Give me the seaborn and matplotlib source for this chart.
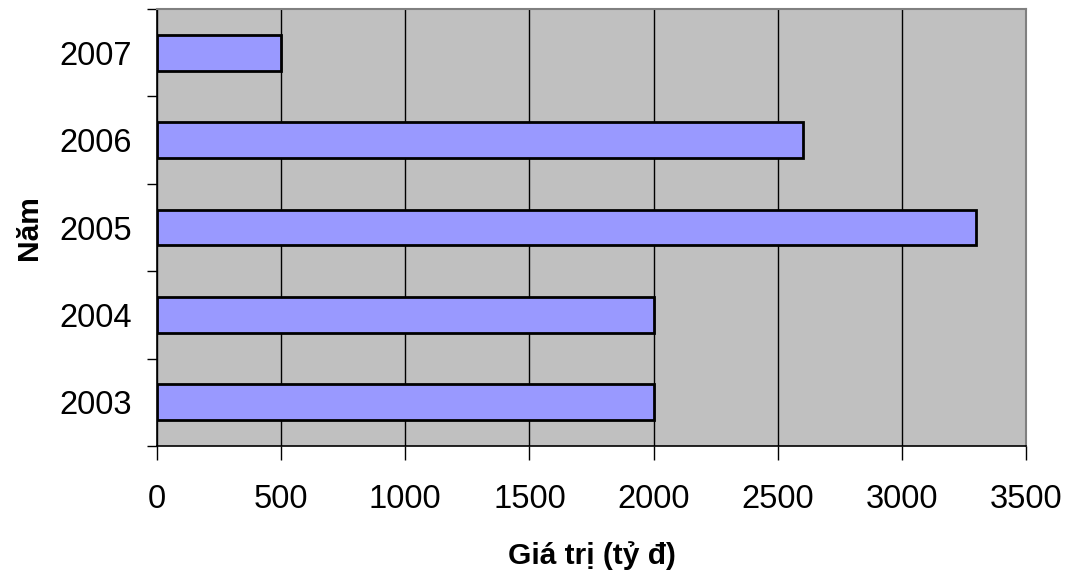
import matplotlib
matplotlib.use("Agg")
import matplotlib.pyplot as plt
import seaborn as sns
import pandas as pd
import numpy as np

years = ["2007", "2006", "2005", "2004", "2003"]
values = [500, 2600, 3300, 2000, 2000]
x_ticks = [0, 500, 1000, 1500, 2000, 2500, 3000, 3500]

sns.set_style("white")
plt.rcParams['font.family'] = ['Liberation Sans', 'DejaVu Sans']
plt.rcParams['text.color'] = 'black'
plt.rcParams['axes.labelcolor'] = 'black'
plt.rcParams['xtick.color'] = 'black'
plt.rcParams['ytick.color'] = 'black'

df = pd.DataFrame({"Năm": years, "Giá trị": values})

fig = plt.figure(figsize=(10.7, 5.77), dpi=100)
ax = fig.add_axes([157/1070, 1-446/577, (1026-157)/1070, (446-9)/577])
ax.set_facecolor("#C0C0C0")

sns.barplot(data=df, y="Năm", x="Giá trị", order=years, orient="h",
            color="#9999FF", saturation=1, width=0.41,
            edgecolor="black", linewidth=2, ax=ax, zorder=3)

ax.set_xlim(0, 3500)
ax.set_ylim(4.5, -0.5)
ax.set_xticks(x_ticks)
ax.set_xticklabels([str(t) for t in x_ticks], fontsize=23.5)
ax.grid(axis="x", color="black", linewidth=1, zorder=1)
ax.set_axisbelow(True)

ax.set_yticks(range(len(years)))
ax.set_yticklabels(years, fontsize=23.5)
ax.tick_params(axis="y", which="major", length=0, pad=18)
ax.set_yticks(np.arange(-0.5, len(years), 1.0), minor=True)
ax.tick_params(axis="y", which="minor", length=7, width=1, color="black", direction="out", left=True)
ax.tick_params(axis="x", which="major", length=10, width=1, color="black", direction="out", bottom=True, pad=17)

for s in ["left", "bottom"]:
    ax.spines[s].set_color("black")
    ax.spines[s].set_linewidth(1.2)
for s in ["top", "right"]:
    ax.spines[s].set_color("#808080")
    ax.spines[s].set_linewidth(1.5)

ax.set_xlabel("Giá trị (tỷ đ)", fontsize=21.5, fontweight="bold", labelpad=19)
ax.set_ylabel("Năm", fontsize=21.5, fontweight="bold", labelpad=12)

fig.savefig("out.png", dpi=100)
